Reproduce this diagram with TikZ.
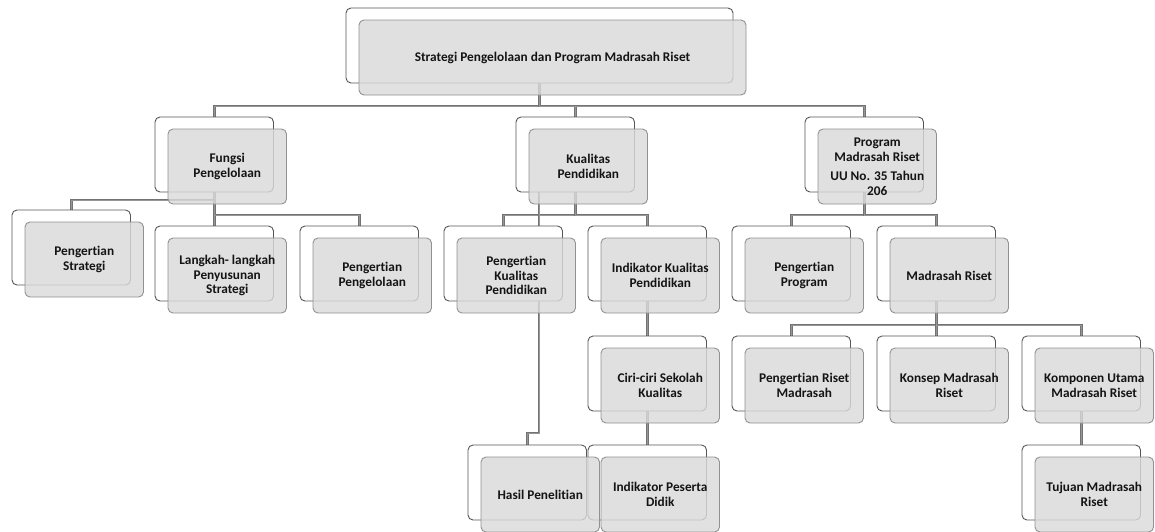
\documentclass[tikz,border=0pt]{standalone}
\usepackage{fontspec}
\setmainfont{Carlito}[Ligatures=CommonOff]
\usetikzlibrary{calc}
\definecolor{backdraw}{RGB}{85,85,85}
\definecolor{frontfill}{RGB}{218,218,218}
\definecolor{frontdraw}{RGB}{145,145,145}
\definecolor{connout}{RGB}{115,115,115}
\definecolor{connin}{RGB}{150,150,150}
\definecolor{txt}{RGB}{20,20,20}
\tikzset{
  backbox/.style={draw=backdraw, fill=white, line width=0.9pt, rounded corners=5pt,
    minimum width=118.5pt, minimum height=75pt, anchor=north west, inner sep=0pt, outer sep=0pt},
  frontbox/.style={draw=frontdraw, fill=frontfill, fill opacity=0.82, draw opacity=1, text opacity=1,
    line width=0.9pt, rounded corners=5pt, minimum width=118.5pt, minimum height=75pt,
    anchor=north west, inner sep=0pt, outer sep=0pt, align=center, text=txt,
    font=\bfseries\fontsize{13.3}{14.5}\selectfont},
  conn/.style={draw=connout, line width=1pt, double=connin, double distance=0.9pt}
}
\begin{document}
\begin{tikzpicture}[x=1pt,y=-1pt]
\useasboundingbox (0,0) rectangle (1155,531);
\path
  (346,8)   node[backbox, draw=none, fill=none, minimum width=387pt] (btop) {}
  (155,117) node[backbox, draw=none, fill=none] (bfungsi) {}
  (516,117) node[backbox, draw=none, fill=none] (bkualitas) {}
  (805,117) node[backbox, draw=none, fill=none] (bprogram) {}
  (12,210)  node[backbox, draw=none, fill=none] (bpstrategi) {}
  (155,226) node[backbox, draw=none, fill=none] (blangkah) {}
  (300,226) node[backbox, draw=none, fill=none] (bppengelolaan) {}
  (444,226) node[backbox, draw=none, fill=none] (bpkualitas) {}
  (588,226) node[backbox, draw=none, fill=none] (bikualitas) {}
  (732,226) node[backbox, draw=none, fill=none] (bpprogram) {}
  (877,226) node[backbox, draw=none, fill=none] (bmriset) {}
  (588,336) node[backbox, draw=none, fill=none] (bciri) {}
  (732,336) node[backbox, draw=none, fill=none] (bpriset) {}
  (877,336) node[backbox, draw=none, fill=none] (bkonsep) {}
  (1022,336) node[backbox, draw=none, fill=none] (bkomponen) {}
  (468,445) node[backbox, draw=none, fill=none] (bhasil) {}
  (588,445) node[backbox, draw=none, fill=none] (bipeserta) {}
  (1022,445) node[backbox, draw=none, fill=none] (btujuan) {};
\coordinate (hj) at (539,433);
% connectors
\draw[conn] (btop.south) -- ++(0,23) -| (bfungsi.north);
\draw[conn] (btop.south) -- ++(0,23) -| (bkualitas.north);
\draw[conn] (btop.south) -- ++(0,23) -| (bprogram.north);
\draw[conn] (bfungsi.south) -- ++(0,8) -| (bpstrategi.north);
\draw[conn] (bfungsi.south) -- ++(0,23) -| (blangkah.north);
\draw[conn] (bfungsi.south) -- ++(0,23) -| (bppengelolaan.north);
\draw[conn] (bkualitas.south) -- ++(0,23) -| (bpkualitas.north);
\draw[conn] (bkualitas.south) -- ++(0,23) -| (bikualitas.north);
\draw[conn] (bkualitas.south -| hj) -- (hj) -| (bhasil.north);
\draw[conn] (bprogram.south) -- ++(0,23) -| (bpprogram.north);
\draw[conn] (bprogram.south) -- ++(0,23) -| (bmriset.north);
\draw[conn] (bikualitas.south) -- (bciri.north);
\draw[conn] (bciri.south) -- (bipeserta.north);
\draw[conn] (bmriset.south) -- ++(0,24) -| (bpriset.north);
\draw[conn] (bmriset.south) -- ++(0,24) -| (bkonsep.north);
\draw[conn] (bmriset.south) -- ++(0,24) -| (bkomponen.north);
\draw[conn] (bkomponen.south) -- (btujuan.north);
% back boxes
\foreach \n in {btop,bfungsi,bkualitas,bprogram,bpstrategi,blangkah,bppengelolaan,bpkualitas,bikualitas,bpprogram,bmriset,bciri,bpriset,bkonsep,bkomponen,bhasil,bipeserta,btujuan}
  \draw[draw=backdraw, fill=white, line width=0.9pt, rounded corners=5pt] (\n.north west) rectangle (\n.south east);
% front boxes
\node[frontbox, minimum width=387pt] (top) at ($(btop.north west)+(13,12)$) {Strategi Pengelolaan dan Program Madrasah Riset};
\node[frontbox] (fungsi) at ($(bfungsi.north west)+(13,12)$) {Fungsi\\Pengelolaan};
\node[frontbox] (kualitas) at ($(bkualitas.north west)+(13,12)$) {Kualitas\\Pendidikan};
\node[frontbox] (program) at ($(bprogram.north west)+(13,12)$) {Program\\Madrasah Riset\\[5pt]UU No. 35 Tahun\\206};
\node[frontbox] (pstrategi) at ($(bpstrategi.north west)+(13,12)$) {Pengertian\\Strategi};
\node[frontbox] (langkah) at ($(blangkah.north west)+(13,12)$) {Langkah- langkah\\Penyusunan\\Strategi};
\node[frontbox] (ppengelolaan) at ($(bppengelolaan.north west)+(13,12)$) {Pengertian\\Pengelolaan};
\node[frontbox] (pkualitas) at ($(bpkualitas.north west)+(13,12)$) {Pengertian\\Kualitas\\Pendidikan};
\node[frontbox] (ikualitas) at ($(bikualitas.north west)+(13,12)$) {Indikator Kualitas\\Pendidikan};
\node[frontbox] (pprogram) at ($(bpprogram.north west)+(13,12)$) {Pengertian\\Program};
\node[frontbox] (mriset) at ($(bmriset.north west)+(13,12)$) {Madrasah Riset};
\node[frontbox] (ciri) at ($(bciri.north west)+(13,12)$) {Ciri-ciri Sekolah\\Kualitas};
\node[frontbox] (priset) at ($(bpriset.north west)+(13,12)$) {Pengertian Riset\\Madrasah};
\node[frontbox] (konsep) at ($(bkonsep.north west)+(13,12)$) {Konsep Madrasah\\Riset};
\node[frontbox] (komponen) at ($(bkomponen.north west)+(13,12)$) {Komponen Utama\\Madrasah Riset};
\node[frontbox] (hasil) at ($(bhasil.north west)+(13,12)$) {Hasil Penelitian};
\node[frontbox] (ipeserta) at ($(bipeserta.north west)+(13,12)$) {Indikator Peserta\\Didik};
\node[frontbox] (tujuan) at ($(btujuan.north west)+(13,12)$) {Tujuan Madrasah\\Riset};
\end{tikzpicture}
\end{document}
